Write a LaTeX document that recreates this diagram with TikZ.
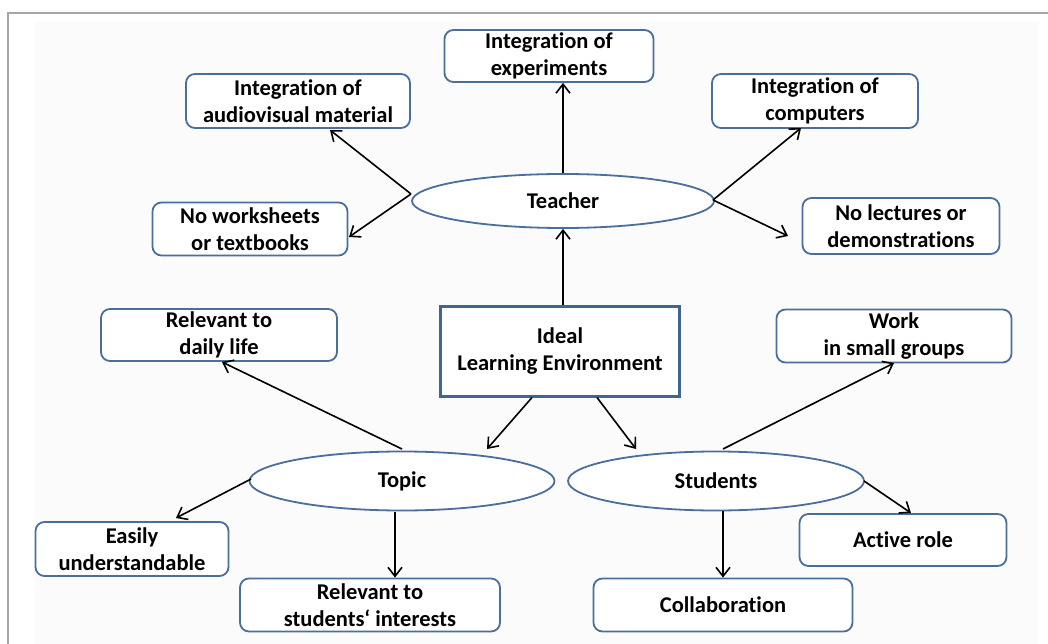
\documentclass[tikz,border=0pt]{standalone}
\usepackage{fontspec}
\setmainfont[Ligatures=NoCommon]{Carlito}
\usetikzlibrary{arrows.meta,shapes.geometric}
\definecolor{boxblue}{HTML}{4A6E9E}
\definecolor{idealblue}{HTML}{3F6592}
\definecolor{panel}{HTML}{FBFBFB}
\tikzset{
  lbl/.style={font=\fontsize{22.5}{27}\selectfont\bfseries, align=center, text=black},
  rbox/.style={lbl, draw=boxblue, line width=1.8pt, rounded corners=9pt, fill=white, inner sep=0pt},
  oval/.style={lbl, draw=boxblue, line width=1.8pt, ellipse, fill=white, inner sep=0pt},
  arr/.style={line width=1.6pt, -{Straight Barb[length=9pt,width=14pt,line width=1.6pt]}}
}
\begin{document}
\begin{tikzpicture}[x=1pt,y=-1pt]
\useasboundingbox (0,0) rectangle (1048,644);
\fill[white] (0,0) rectangle (1048,644);
\fill[panel] (35,22) rectangle (1038,644);
\draw[gray!70, line width=1.5pt] (8,644) -- (8,13) -- (1048,13);

% teacher branch
\node[oval, minimum width=302pt, minimum height=54pt] (teacher) at (563,201) {Teacher};
\node[rbox, minimum width=209pt, minimum height=52pt] (exp) at (549,56) {Integration of\\experiments};
\node[rbox, minimum width=224pt, minimum height=54pt] (av) at (298,101) {Integration of\\audiovisual material};
\node[rbox, minimum width=206pt, minimum height=54pt] (comp) at (815,101) {Integration of\\computers};
\node[rbox, minimum width=195pt, minimum height=53pt] (ws) at (250,229) {No worksheets\\or textbooks};
\node[rbox, minimum width=197pt, minimum height=56pt] (lect) at (901,226) {No lectures or\\demonstrations};

% centre
\node[lbl, draw=idealblue, line width=3pt, fill=white, minimum width=239pt, minimum height=90pt, inner sep=0pt] (ideal) at (560,351) {Ideal\\Learning Environment};

% topic branch
\node[oval, minimum width=305pt, minimum height=59pt] (topic) at (402,481) {Topic};
\node[rbox, minimum width=236pt, minimum height=52pt] (daily) at (219,335) {Relevant to\\daily life};
\node[rbox, minimum width=193pt, minimum height=54pt] (easy) at (132,549) {Easily\\understandable};
\node[rbox, minimum width=260pt, minimum height=53pt] (interest) at (370,605) {Relevant to\\students\textquoteleft{} interests};

% students branch
\node[oval, minimum width=296pt, minimum height=59pt] (students) at (716,481) {Students};
\node[rbox, minimum width=235pt, minimum height=53pt] (groups) at (894,336) {Work\\in small groups};
\node[rbox, minimum width=207pt, minimum height=52pt] (active) at (903,540) {Active role};
\node[rbox, minimum width=259pt, minimum height=53pt] (collab) at (723,605) {Collaboration};

% connectors
\coordinate (tl) at (411,194);
\coordinate (tr) at (713,200);
\draw[arr] (teacher.north -| 563,0) -- (exp.south -| 563,0);
\draw[arr] (tl) -- (330,130);
\draw[arr] (tl) -- (349,237);
\draw[arr] (tr) -- (801,128);
\draw[arr] (tr) -- (788,236);
\draw[arr] (ideal.north -| 563,0) -- (teacher.south -| 563,0);
\draw[arr] ([xshift=-28pt]ideal.south) -- (487,449);
\draw[arr] ([xshift=37pt]ideal.south) -- (636,449);
\draw[arr] (402,449) -- (222,362);
\draw[arr] (251,479) -- (176,518);
\draw[arr] (395,512) -- (interest.north -| 395,0);
\draw[arr] (723,449) -- (894,363);
\draw[arr] (864,481) -- (911,513);
\draw[arr] (students.south -| 723,0) -- (collab.north -| 723,0);
\end{tikzpicture}
\end{document}
